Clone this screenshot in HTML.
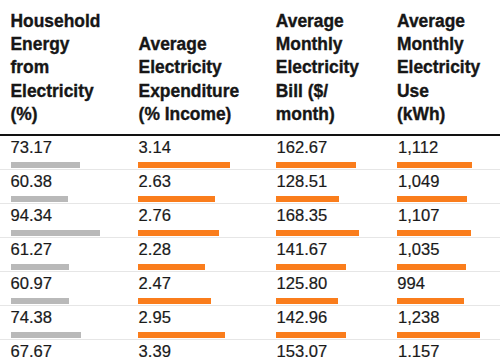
<!DOCTYPE html>
<html><head><meta charset="utf-8"><style>
html,body{margin:0;padding:0;background:#fff;width:500px;height:357px;overflow:hidden;position:relative}
.h{position:absolute;font-family:"Liberation Sans",sans-serif;font-weight:bold;font-size:17.4px;line-height:23px;color:#161616;white-space:nowrap;transform:scaleY(1.08);transform-origin:0 17.5px;-webkit-text-stroke:0.35px #161616}
.v{position:absolute;font-family:"Liberation Sans",sans-serif;font-size:16.6px;line-height:20px;color:#1a1a1a;white-space:nowrap;-webkit-text-stroke:0.2px #1a1a1a}
.b{position:absolute;height:6px}
.g{background:#b9b9b9}
.o{background:#fa7d1c}
.sep{position:absolute;left:0;width:500px;height:1px;background:#e6e6e6}
</style></head><body>

<div class="h" style="left:10.5px;top:9.75px">Household</div>
<div class="h" style="left:10.5px;top:33.00px">Energy</div>
<div class="h" style="left:10.5px;top:56.25px">from</div>
<div class="h" style="left:10.5px;top:79.50px">Electricity</div>
<div class="h" style="left:10.5px;top:102.75px">(%)</div>
<div class="h" style="left:138.6px;top:33.00px">Average</div>
<div class="h" style="left:138.6px;top:56.25px">Electricity</div>
<div class="h" style="left:138.6px;top:79.50px">Expenditure</div>
<div class="h" style="left:138.6px;top:102.75px">(% Income)</div>
<div class="h" style="left:275.8px;top:9.75px">Average</div>
<div class="h" style="left:275.8px;top:33.00px">Monthly</div>
<div class="h" style="left:275.8px;top:56.25px">Electricity</div>
<div class="h" style="left:275.8px;top:79.50px">Bill ($/</div>
<div class="h" style="left:275.8px;top:102.75px">month)</div>
<div class="h" style="left:397px;top:9.75px">Average</div>
<div class="h" style="left:397px;top:33.00px">Monthly</div>
<div class="h" style="left:397px;top:56.25px">Electricity</div>
<div class="h" style="left:397px;top:79.50px">Use</div>
<div class="h" style="left:397px;top:102.75px">(kWh)</div>
<div style="position:absolute;left:0;top:134px;width:500px;height:2px;background:#121212"></div>
<div class="v" style="left:10.5px;top:137.8px">73.17</div>
<div class="b g" style="left:11px;top:161.8px;width:69.0px"></div>
<div class="v" style="left:138.6px;top:137.8px">3.14</div>
<div class="b o" style="left:138px;top:161.8px;width:92.0px"></div>
<div class="v" style="left:276.5px;top:137.8px">162.67</div>
<div class="b o" style="left:276px;top:161.8px;width:80.0px"></div>
<div class="v" style="left:398.0px;top:137.8px">1,112</div>
<div class="b o" style="left:397.2px;top:161.8px;width:74.4px"></div>
<div class="sep" style="top:169px"></div>
<div class="v" style="left:10.5px;top:171.8px">60.38</div>
<div class="b g" style="left:11px;top:195.8px;width:57.0px"></div>
<div class="v" style="left:138.6px;top:171.8px">2.63</div>
<div class="b o" style="left:138px;top:195.8px;width:77.3px"></div>
<div class="v" style="left:276.5px;top:171.8px">128.51</div>
<div class="b o" style="left:276px;top:195.8px;width:62.9px"></div>
<div class="v" style="left:398.0px;top:171.8px">1,049</div>
<div class="b o" style="left:397.2px;top:195.8px;width:70.2px"></div>
<div class="sep" style="top:203px"></div>
<div class="v" style="left:10.5px;top:205.8px">94.34</div>
<div class="b g" style="left:11px;top:229.8px;width:89.0px"></div>
<div class="v" style="left:138.6px;top:205.8px">2.76</div>
<div class="b o" style="left:138px;top:229.8px;width:81.0px"></div>
<div class="v" style="left:276.5px;top:205.8px">168.35</div>
<div class="b o" style="left:276px;top:229.8px;width:82.8px"></div>
<div class="v" style="left:398.0px;top:205.8px">1,107</div>
<div class="b o" style="left:397.2px;top:229.8px;width:74.0px"></div>
<div class="sep" style="top:237px"></div>
<div class="v" style="left:10.5px;top:239.8px">61.27</div>
<div class="b g" style="left:11px;top:263.8px;width:57.8px"></div>
<div class="v" style="left:138.6px;top:239.8px">2.28</div>
<div class="b o" style="left:138px;top:263.8px;width:67.2px"></div>
<div class="v" style="left:276.5px;top:239.8px">141.67</div>
<div class="b o" style="left:276px;top:263.8px;width:69.5px"></div>
<div class="v" style="left:398.0px;top:239.8px">1,035</div>
<div class="b o" style="left:397.2px;top:263.8px;width:69.3px"></div>
<div class="sep" style="top:271px"></div>
<div class="v" style="left:10.5px;top:273.8px">60.97</div>
<div class="b g" style="left:11px;top:297.8px;width:57.5px"></div>
<div class="v" style="left:138.6px;top:273.8px">2.47</div>
<div class="b o" style="left:138px;top:297.8px;width:72.7px"></div>
<div class="v" style="left:276.5px;top:273.8px">125.80</div>
<div class="b o" style="left:276px;top:297.8px;width:61.5px"></div>
<div class="v" style="left:397.3px;top:273.8px">994</div>
<div class="b o" style="left:397.2px;top:297.8px;width:66.6px"></div>
<div class="sep" style="top:305px"></div>
<div class="v" style="left:10.5px;top:307.8px">74.38</div>
<div class="b g" style="left:11px;top:331.8px;width:70.2px"></div>
<div class="v" style="left:138.6px;top:307.8px">2.95</div>
<div class="b o" style="left:138px;top:331.8px;width:86.5px"></div>
<div class="v" style="left:276.5px;top:307.8px">142.96</div>
<div class="b o" style="left:276px;top:331.8px;width:70.1px"></div>
<div class="v" style="left:398.0px;top:307.8px">1,238</div>
<div class="b o" style="left:397.2px;top:331.8px;width:82.7px"></div>
<div class="sep" style="top:339px"></div>
<div class="v" style="left:10.5px;top:341.8px">67.67</div>
<div class="b g" style="left:11px;top:365.8px;width:63.8px"></div>
<div class="v" style="left:138.6px;top:341.8px">3.39</div>
<div class="b o" style="left:138px;top:365.8px;width:99.2px"></div>
<div class="v" style="left:276.5px;top:341.8px">153.07</div>
<div class="b o" style="left:276px;top:365.8px;width:75.2px"></div>
<div class="v" style="left:398.0px;top:341.8px">1,157</div>
<div class="b o" style="left:397.2px;top:365.8px;width:77.3px"></div>
<div class="sep" style="top:373px"></div>
</body></html>
